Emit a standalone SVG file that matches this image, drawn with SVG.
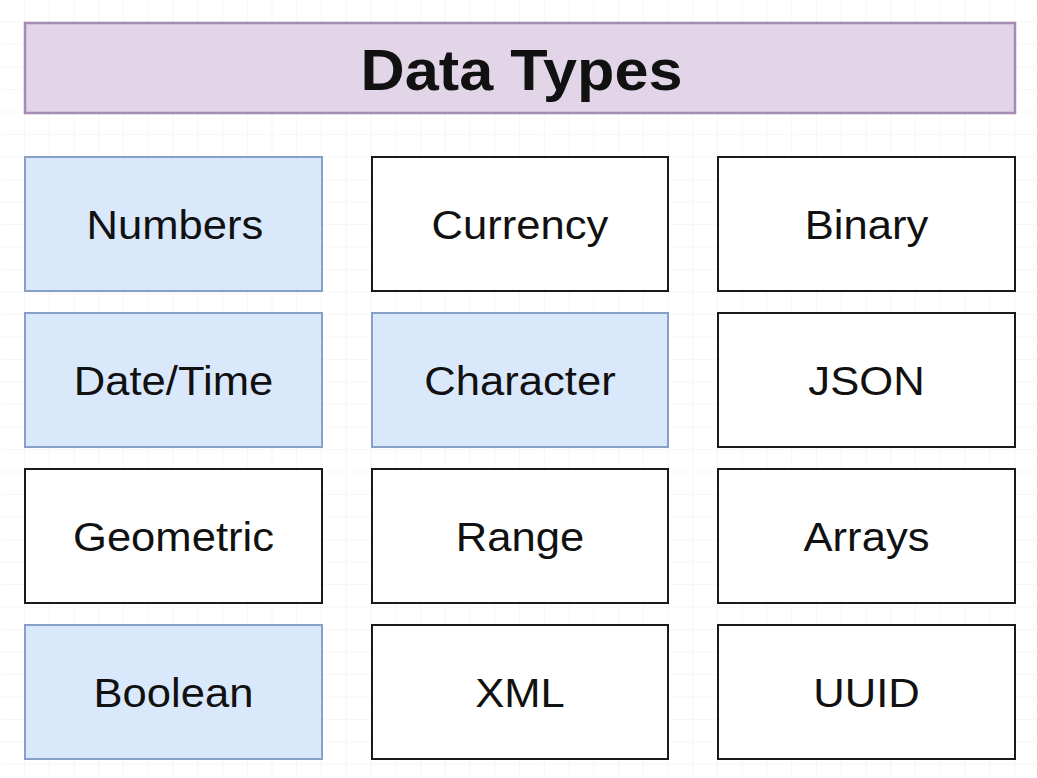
<svg xmlns="http://www.w3.org/2000/svg" width="1037" height="778" viewBox="0 0 1037 778">
  <defs>
    <pattern id="grid" x="0.25" y="0" width="24.75" height="22.5" patternUnits="userSpaceOnUse">
      <path d="M24.75 0V22.5M0 22.5H24.75" fill="none" stroke="#efefef" stroke-width="1.2"/>
    </pattern>
    <style>
      .box { stroke-width: 2; }
      .plain { fill: #ffffff; stroke: #1a1a1a; }
      .blue { fill: #dae8fc; stroke: #86a0ca; }
      .title { fill: #e1d5e7; stroke: #a38db5; stroke-width: 2.5; }
      text { font-family: "Liberation Sans", Arial, Helvetica, sans-serif; fill: #111111; text-anchor: middle; }
      .lbl { font-size: 40px; }
      .head { font-size: 58px; font-weight: bold; }
    </style>
  </defs>

  <!-- canvas grid -->
  <rect width="1037" height="778" fill="#ffffff"/>
  <rect width="1037" height="778" fill="url(#grid)"/>

  <g id="title">
    <rect class="title" x="25" y="23" width="990" height="90"/>
    <text class="head" transform="translate(521.5 90) scale(1.055 1)">Data Types</text>
  </g>

  <!-- row 1 -->
  <g id="numbers">
    <rect class="box blue" x="25" y="157" width="297" height="134"/>
    <text class="lbl" transform="translate(175 239) scale(1.09 1)">Numbers</text>
  </g>
  <g id="currency">
    <rect class="box plain" x="372" y="157" width="296" height="134"/>
    <text class="lbl" transform="translate(520 239) scale(1.09 1)">Currency</text>
  </g>
  <g id="binary">
    <rect class="box plain" x="718" y="157" width="297" height="134"/>
    <text class="lbl" transform="translate(866.5 239) scale(1.09 1)">Binary</text>
  </g>

  <!-- row 2 -->
  <g id="datetime">
    <rect class="box blue" x="25" y="313" width="297" height="134"/>
    <text class="lbl" transform="translate(173.5 395) scale(1.09 1)">Date/Time</text>
  </g>
  <g id="character">
    <rect class="box blue" x="372" y="313" width="296" height="134"/>
    <text class="lbl" transform="translate(520 395) scale(1.09 1)">Character</text>
  </g>
  <g id="json">
    <rect class="box plain" x="718" y="313" width="297" height="134"/>
    <text class="lbl" transform="translate(866.5 395) scale(1.09 1)">JSON</text>
  </g>

  <!-- row 3 -->
  <g id="geometric">
    <rect class="box plain" x="25" y="469" width="297" height="134"/>
    <text class="lbl" transform="translate(173.5 551) scale(1.09 1)">Geometric</text>
  </g>
  <g id="range">
    <rect class="box plain" x="372" y="469" width="296" height="134"/>
    <text class="lbl" transform="translate(520 551) scale(1.09 1)">Range</text>
  </g>
  <g id="arrays">
    <rect class="box plain" x="718" y="469" width="297" height="134"/>
    <text class="lbl" transform="translate(866.5 551) scale(1.09 1)">Arrays</text>
  </g>

  <!-- row 4 -->
  <g id="boolean">
    <rect class="box blue" x="25" y="625" width="297" height="134"/>
    <text class="lbl" transform="translate(173.5 707) scale(1.09 1)">Boolean</text>
  </g>
  <g id="xml">
    <rect class="box plain" x="372" y="625" width="296" height="134"/>
    <text class="lbl" transform="translate(520 707) scale(1.09 1)">XML</text>
  </g>
  <g id="uuid">
    <rect class="box plain" x="718" y="625" width="297" height="134"/>
    <text class="lbl" transform="translate(866.5 707) scale(1.09 1)">UUID</text>
  </g>

  <!-- no connectors in this diagram -->
  <g id="connectors"/>
</svg>
